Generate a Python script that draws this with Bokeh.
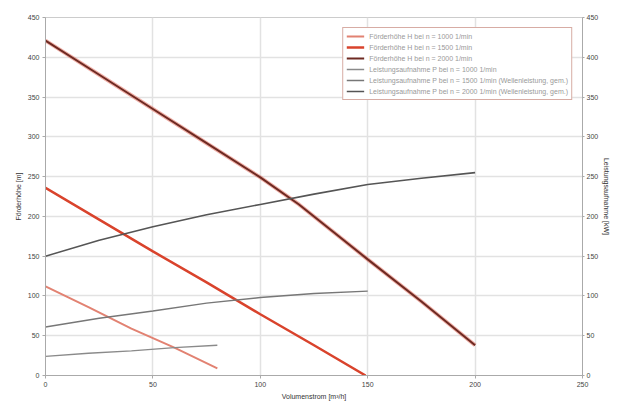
from bokeh.plotting import figure
from bokeh.models import Range1d, LinearAxis, FixedTicker, Legend, LegendItem
from bokeh.embed import file_html
from bokeh.resources import INLINE

# Data
q_h3 = [0, 25, 50, 75, 100, 118, 150, 175, 200]
h3 = [421, 378, 335, 292, 249, 215, 146, 93, 38]
q_h2 = [0, 25, 50, 75, 100, 125, 149]
h2 = [236, 196, 156, 117, 77, 38, 0]
q_h1 = [0, 20, 40, 60, 80]
h1 = [112, 86, 59, 35, 9]

q_p3 = [0, 25, 50, 75, 100, 125, 150, 175, 200]
p3 = [150, 170, 187, 202, 215, 228, 240, 248, 255]
q_p2 = [0, 25, 50, 75, 100, 125, 150]
p2 = [61, 72, 81, 91, 98, 103, 106]
q_p1 = [0, 20, 40, 60, 80]
p1 = [24, 28, 31, 35, 38]

x_ticks = [0, 50, 100, 150, 200, 250]
y_ticks = [0, 50, 100, 150, 200, 250, 300, 350, 400, 450]
y2_ticks = [0, 50, 100, 150, 200, 250, 300, 350, 400, 450]

labels = [
    "Förderhöhe H bei n = 1000 1/min",
    "Förderhöhe H bei n = 1500 1/min",
    "Förderhöhe H bei n = 2000 1/min",
    "Leistungsaufnahme P bei n = 1000 1/min",
    "Leistungsaufnahme P bei n = 1500 1/min (Wellenleistung, gem.)",
    "Leistungsaufnahme P bei n = 2000 1/min (Wellenleistung, gem.)",
]

FONT = "Liberation Sans"
p = figure(width=613, height=402, output_backend="svg", toolbar_location=None,
           x_range=Range1d(0, 250), y_range=Range1d(0, 450),
           min_border_left=45, min_border_right=28, min_border_top=17, min_border_bottom=25)
p.extra_y_ranges = {"pow": Range1d(0, 450)}
p.outline_line_color = "#cccccc"

p.xaxis.ticker = FixedTicker(ticks=x_ticks)
p.yaxis.ticker = FixedTicker(ticks=y_ticks)
p.xaxis.axis_label = "Volumenstrom [m³/h]"
p.yaxis.axis_label = "Förderhöhe [m]"

ax2 = LinearAxis(y_range_name="pow", axis_label="Leistungsaufnahme [kW]",
                 ticker=FixedTicker(ticks=y2_ticks))
p.add_layout(ax2, "right")

for ax in [p.xaxis[0], p.yaxis[0], ax2]:
    ax.major_label_text_font_size = "7px"
    ax.major_label_text_font = FONT
    ax.major_label_text_color = "#444444"
    ax.axis_label_text_font_size = "7px"
    ax.axis_label_text_font = FONT
    ax.axis_label_text_font_style = "normal"
    ax.axis_label_text_color = "#333333"
    ax.axis_line_color = "#aaaaaa"
    ax.major_tick_line_color = "#aaaaaa"
    ax.major_tick_out = 3
    ax.major_tick_in = 0
    ax.minor_tick_line_color = None
    ax.major_label_standoff = 3
    ax.axis_label_standoff = 3
ax2.major_tick_out = 2
ax2.major_label_standoff = 2
ax2.axis_label_standoff = 2

p.xgrid.ticker = FixedTicker(ticks=x_ticks)
p.ygrid.ticker = FixedTicker(ticks=y_ticks)
p.grid.grid_line_color = "#e2e2e2"
p.grid.grid_line_width = 1.5

# halo under dark curve
p.line(q_h3, h3, line_color="#e06050", line_width=4, line_alpha=0.5)
r_h3 = p.line(q_h3, h3, line_color="#6e2a22", line_width=2)
r_h2 = p.line(q_h2, h2, line_color="#d9432c", line_width=2.5)
r_h1 = p.line(q_h1, h1, line_color="#e28272", line_width=2)

r_p3 = p.line(q_p3, p3, line_color="#555555", line_width=1.6, y_range_name="pow")
r_p2 = p.line(q_p2, p2, line_color="#777777", line_width=1.4, y_range_name="pow")
r_p1 = p.line(q_p1, p1, line_color="#8a8a8a", line_width=1.4, y_range_name="pow")

legend = Legend(items=[
    LegendItem(label=labels[0], renderers=[r_h1]),
    LegendItem(label=labels[1], renderers=[r_h2]),
    LegendItem(label=labels[2], renderers=[r_h3]),
    LegendItem(label=labels[3], renderers=[r_p1]),
    LegendItem(label=labels[4], renderers=[r_p2]),
    LegendItem(label=labels[5], renderers=[r_p3]),
], location="top_right")
legend.label_text_font_size = "7px"
legend.label_text_font = FONT
legend.label_text_color = "#999999"
legend.label_height = 10
legend.glyph_height = 10
legend.glyph_width = 18
legend.spacing = 1
legend.padding = 3
legend.margin = 10
legend.border_line_color = "#b05a4a"
legend.border_line_width = 1.5
legend.background_fill_alpha = 1
p.add_layout(legend)

open("out.html", "w").write(file_html(p, INLINE))
